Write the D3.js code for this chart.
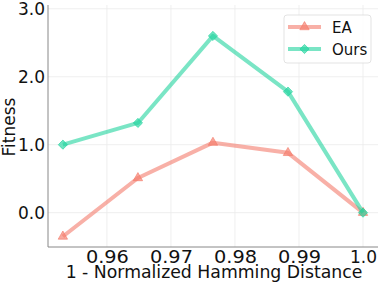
<!DOCTYPE html>
<html>
<head>
<meta charset="utf-8">
<script src="https://cdn.jsdelivr.net/npm/d3@7"></script>
<style>
  body { margin: 0; background: #fff; }
  svg { display: block; font-family: "DejaVu Sans", sans-serif; }
</style>
</head>
<body>
<div id="chart"></div>
<script>
// values
const xValues = [0.953125, 0.964844, 0.976563, 0.988281, 1.0];
const eaValues = [-0.35, 0.51, 1.03, 0.88, 0.0];
const oursValues = [1.0, 1.32, 2.6, 1.78, 0.0];
const xTicks = [0.96, 0.97, 0.98, 0.99, 1.0];
const xTickLabels = ['0.96', '0.97', '0.98', '0.99', '1.0'];
const yTicks = [0, 1, 2, 3];
const yTickLabels = ['0.0', '1.0', '2.0', '3.0'];

const diamond = {
  draw(ctx, size) {
    const r = Math.sqrt(size) / 2 * Math.SQRT2;
    ctx.moveTo(0, -r); ctx.lineTo(r, 0); ctx.lineTo(0, r); ctx.lineTo(-r, 0); ctx.closePath();
  }
};

const series = [
  { name: 'EA', values: eaValues, color: '#f47c6c', marker: d3.symbolTriangle, size: 38 },
  { name: 'Ours', values: oursValues, color: '#22d49e', marker: diamond, size: 42 }
];

const width = 381, height = 285;
const margin = { top: 5, right: 3, bottom: 38, left: 48 };

const svg = d3.select('#chart').append('svg')
  .attr('width', width)
  .attr('height', height);

const x = d3.scaleLinear()
  .domain([0.9508, 1.00234])
  .range([margin.left, width - margin.right]);

const y = d3.scaleLinear()
  .domain([-0.505, 3.055])
  .range([height - margin.bottom, margin.top]);

// grid
const grid = svg.append('g').attr('stroke', '#ebebeb').attr('stroke-width', 0.8);
grid.selectAll('.gx').data(xTicks).join('line')
  .attr('x1', d => x(d)).attr('x2', d => x(d))
  .attr('y1', y.range()[0]).attr('y2', y.range()[1]);
grid.selectAll('.gy').data(yTicks).join('line')
  .attr('y1', d => y(d)).attr('y2', d => y(d))
  .attr('x1', x.range()[0]).attr('x2', x.range()[1]);

// axes
const xAxis = d3.axisBottom(x)
  .tickValues(xTicks)
  .tickFormat((d, i) => xTickLabels[i])
  .tickSize(0)
  .tickPadding(4);

const yAxis = d3.axisLeft(y)
  .tickValues(yTicks)
  .tickFormat((d, i) => yTickLabels[i])
  .tickSize(0)
  .tickPadding(3);

const gx = svg.append('g')
  .attr('transform', `translate(0,${y.range()[0]})`)
  .call(xAxis);
gx.select('.domain').attr('stroke', '#888').attr('d', `M${x.range()[0]},0H${x.range()[1]}`);
gx.selectAll('text')
  .attr('font-size', 17).attr('fill', '#111').attr('font-family', '"DejaVu Sans", sans-serif')
  .each(function (d, i) {
    // the two-decimal labels are drawn wider in the reference
    if (xTickLabels[i].length === 4) {
      d3.select(this).attr('textLength', 43).attr('lengthAdjust', 'spacingAndGlyphs');
    }
  });

const gy = svg.append('g')
  .attr('transform', `translate(${x.range()[0]},0)`)
  .call(yAxis);
gy.select('.domain').attr('stroke', '#888').attr('d', `M0,${y.range()[0]}V${y.range()[1]}`);
gy.selectAll('text').attr('font-size', 17).attr('fill', '#111').attr('font-family', '"DejaVu Sans", sans-serif');

// axis labels
svg.append('text')
  .attr('x', 214)
  .attr('y', 277.5)
  .attr('text-anchor', 'middle')
  .attr('font-size', 17.3)
  .attr('fill', '#111')
  .text('1 - Normalized Hamming Distance');

svg.append('text')
  .attr('transform', `translate(15,${(y.range()[0] + y.range()[1]) / 2 + 1}) rotate(-90)`)
  .attr('text-anchor', 'middle')
  .attr('font-size', 17)
  .attr('fill', '#111')
  .text('Fitness');

// lines + markers
const line = d3.line()
  .x((d, i) => x(xValues[i]))
  .y(d => y(d));

series.forEach(s => {
  svg.append('path')
    .attr('fill', 'none')
    .attr('stroke', s.color)
    .attr('stroke-opacity', 0.6)
    .attr('stroke-width', 4)
    .attr('stroke-linejoin', 'round')
    .attr('d', line(s.values));

  svg.append('g').selectAll('path')
    .data(s.values)
    .join('path')
    .attr('transform', (d, i) => `translate(${x(xValues[i])},${y(d)})`)
    .attr('d', d3.symbol().type(s.marker).size(s.size))
    .attr('fill', s.color)
    .attr('fill-opacity', 0.65)
    .attr('stroke', s.color)
    .attr('stroke-opacity', 0.65)
    .attr('stroke-width', 1);
});

// legend
const legend = svg.append('g');
legend.append('rect')
  .attr('x', 284).attr('y', 15)
  .attr('width', 87).attr('height', 48)
  .attr('rx', 3)
  .attr('fill', '#fff').attr('fill-opacity', 0.8)
  .attr('stroke', '#dcdcdc').attr('stroke-width', 0.8);

series.forEach((s, i) => {
  const ly = 27 + i * 22;
  legend.append('line')
    .attr('x1', 288).attr('x2', 321)
    .attr('y1', ly).attr('y2', ly)
    .attr('stroke', s.color).attr('stroke-opacity', 0.6).attr('stroke-width', 4);
  legend.append('path')
    .attr('transform', `translate(304.5,${ly})`)
    .attr('d', d3.symbol().type(s.marker).size(s.size))
    .attr('fill', s.color).attr('fill-opacity', 0.65)
    .attr('stroke', s.color).attr('stroke-opacity', 0.65);
  legend.append('text')
    .attr('x', 332).attr('y', ly + 5.5)
    .attr('font-size', 15)
    .attr('fill', '#111')
    .text(s.name);
});
</script>
</body>
</html>
